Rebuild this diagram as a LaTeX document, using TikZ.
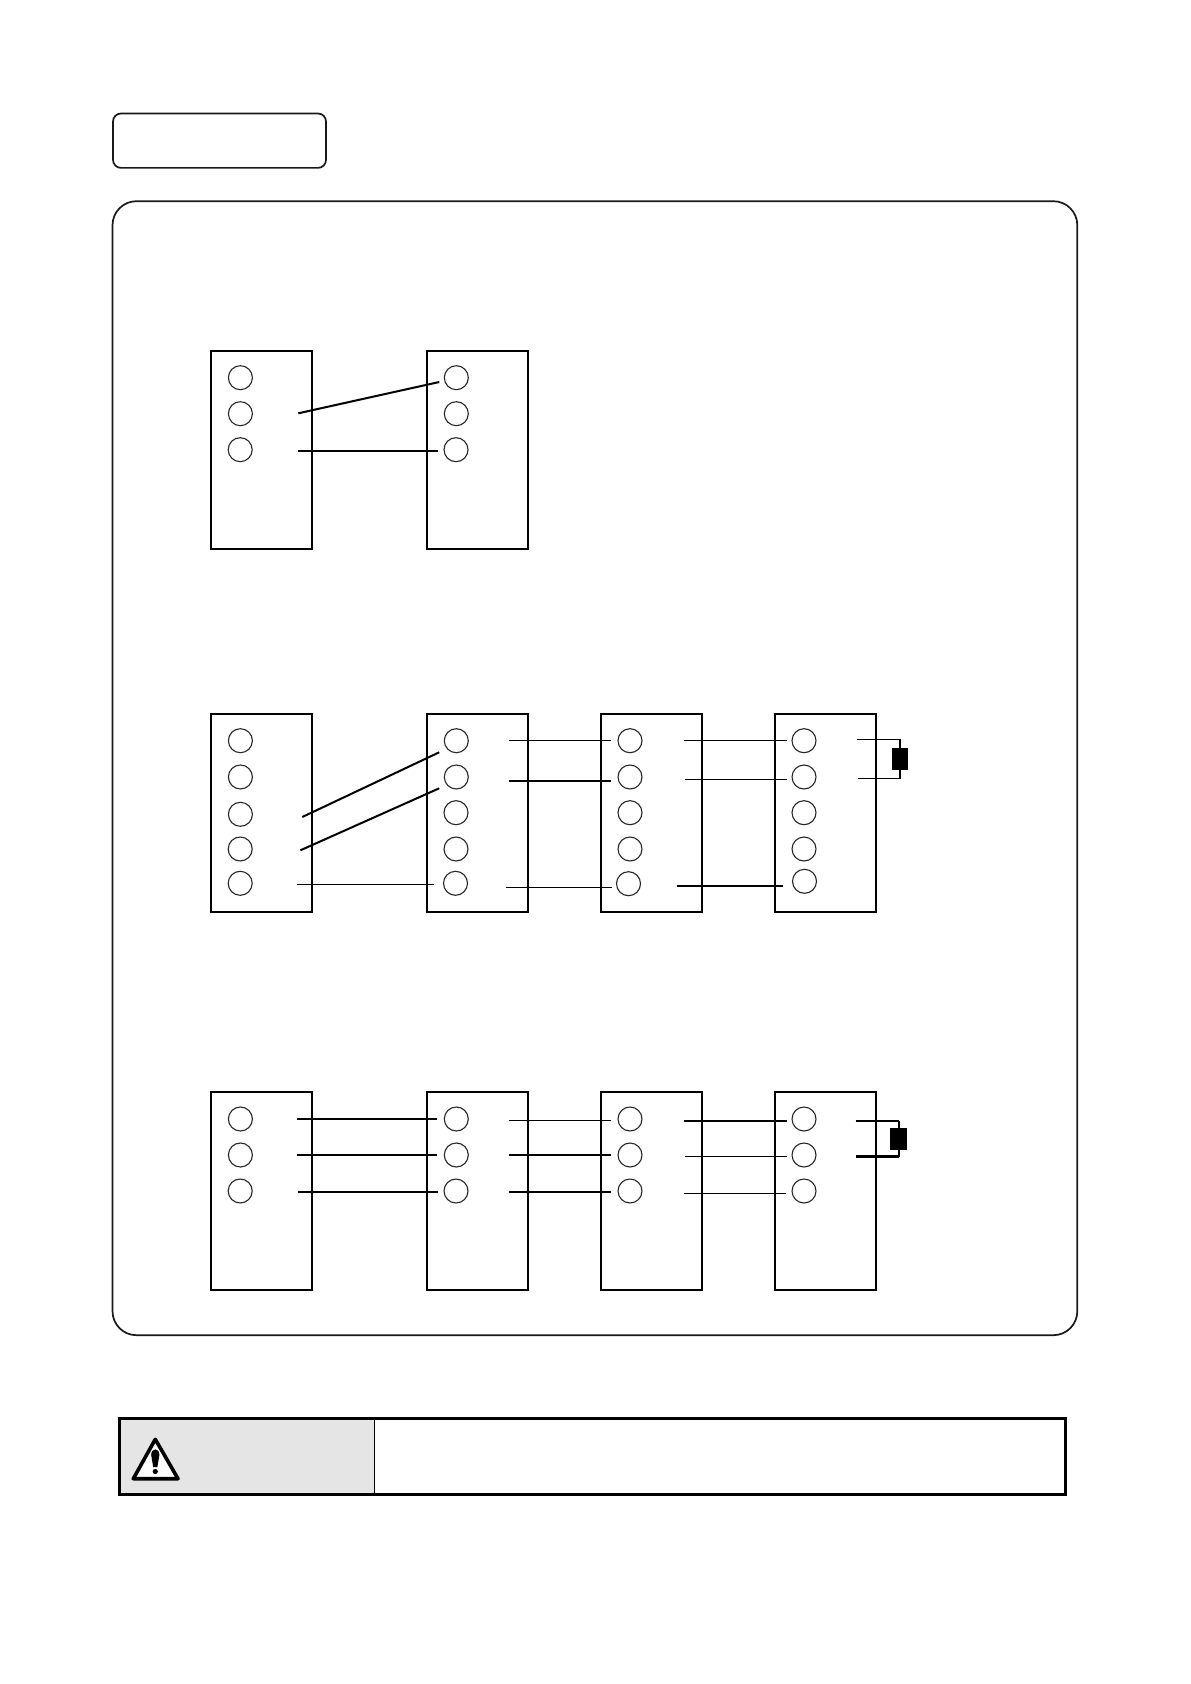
\documentclass[tikz,border=0pt]{standalone}
\usetikzlibrary{calc}
\tikzset{
  x=0.5pt,y=-0.5pt,
  unitbox/.style={draw=black,line width=1.1pt,fill=white,rectangle,inner sep=0pt,outer sep=0pt,minimum width=50.5pt,minimum height=99pt},
  pin/.style={draw=black!85,line width=0.55pt,circle,inner sep=0pt,outer sep=0pt,minimum size=12pt},
  frame/.style={draw=black!90,line width=0.85pt},
  thinw/.style={line width=0.6pt},
  medw/.style={line width=1pt},
  thickw/.style={line width=1.35pt},
  res/.style={fill=black,draw=none,rectangle,inner sep=0pt,outer sep=0pt,minimum width=8.4pt,minimum height=11pt}
}
\newcommand{\wire}[6]{\coordinate (#1a) at (#3,#4);\coordinate (#1b) at (#5,#6);\draw[#2] (#1a) -- (#1b);}
\newcommand{\pinat}[3]{\node[pin] (#1) at (#2,#3) {};}
\begin{document}
\begin{tikzpicture}
\path[use as bounding box,fill=white] (0,0) rectangle (1190,1684);
% title box and main frame
\node[frame,rectangle,rounded corners=4pt,inner sep=0pt,minimum width=106.5pt,minimum height=27.2pt] (title) at (219.5,140.7) {};
\node[frame,rectangle,rounded corners=12pt,inner sep=0pt,minimum width=482.4pt,minimum height=567pt] (main) at (594.9,768.2) {};
% diagram 1
\node[unitbox] (a1) at (261.3,450) {};
\node[unitbox] (b1) at (477.5,450) {};
\pinat{a1p1}{240.4}{377.7}\pinat{a1p2}{240.4}{413.7}\pinat{a1p3}{240.2}{449.7}
\pinat{b1p1}{456.3}{377.7}\pinat{b1p2}{456.3}{413.7}\pinat{b1p3}{456}{449.7}
\wire{u1}{medw}{298.3}{413.3}{439.3}{382}
\wire{u2}{medw}{298.3}{450.7}{437.7}{450.7}
% diagram 2
\node[unitbox] (a2) at (261.3,812.7) {};
\node[unitbox] (b2) at (477.5,812.7) {};
\node[unitbox] (c2) at (651.3,812.7) {};
\node[unitbox] (d2) at (825.2,812.7) {};
\pinat{a2p1}{240.4}{740.7}\pinat{a2p2}{240.4}{777}\pinat{a2p3}{240.4}{814.3}\pinat{a2p4}{240.2}{849}\pinat{a2p5}{240.2}{883.3}
\pinat{b2p1}{456.3}{740.7}\pinat{b2p2}{456.3}{777}\pinat{b2p3}{456}{812.7}\pinat{b2p4}{456}{849}\pinat{b2p5}{455.5}{883.3}
\pinat{c2p1}{630}{740.7}\pinat{c2p2}{630}{777}\pinat{c2p3}{630}{812.7}\pinat{c2p4}{630}{849}\pinat{c2p5}{628.5}{883.7}
\pinat{d2p1}{804}{740.7}\pinat{d2p2}{804}{777}\pinat{d2p3}{804}{812.7}\pinat{d2p4}{804}{849}\pinat{d2p5}{804.5}{881.3}
\wire{v1}{medw}{302.3}{817}{439.2}{752.3}
\wire{v2}{medw}{300.4}{850.3}{439.2}{788.3}
\wire{v3}{thinw}{297}{884.3}{434.3}{884.3}
\wire{v4}{thinw}{509.3}{740.3}{611.2}{740.3}
\wire{v5}{thickw}{509.3}{781}{611}{781}
\wire{v6}{thinw}{506}{887.3}{611.6}{887.3}
\wire{v7}{thinw}{684.3}{740.3}{786.7}{740.3}
\wire{v8}{thinw}{684.8}{779.3}{787.2}{779.3}
\wire{v9}{thickw}{676.8}{886}{782.5}{886}
\node[res] (r2) at (900,759) {};
\coordinate (r2t) at (857.3,739.3);\coordinate (r2b) at (858.3,778.3);
\draw[thinw] (r2t) -| (r2.north);
\draw[thinw] (r2b) -| (r2.south);
% diagram 3
\node[unitbox] (a3) at (261.3,1190.8) {};
\node[unitbox] (b3) at (477.5,1190.8) {};
\node[unitbox] (c3) at (651.3,1190.8) {};
\node[unitbox] (d3) at (825.2,1190.8) {};
\pinat{a3p1}{240.4}{1119}\pinat{a3p2}{240.4}{1155}\pinat{a3p3}{240.2}{1191}
\pinat{b3p1}{456.3}{1119}\pinat{b3p2}{456.3}{1155}\pinat{b3p3}{456}{1191}
\pinat{c3p1}{630}{1119}\pinat{c3p2}{630}{1155}\pinat{c3p3}{630}{1191}
\pinat{d3p1}{804}{1119}\pinat{d3p2}{804}{1155}\pinat{d3p3}{804}{1191}
\wire{w1}{thickw}{297.2}{1119}{437}{1119}
\wire{w2}{thickw}{297.2}{1155}{437}{1155}
\wire{w3}{thickw}{297.7}{1192}{437.6}{1192}
\wire{w4}{thinw}{509.3}{1120.3}{611.2}{1120.3}
\wire{w5}{thickw}{509.3}{1155}{611.2}{1155}
\wire{w6}{thickw}{509.3}{1192}{611.2}{1192}
\wire{w7}{thickw}{684.3}{1121}{786.7}{1121}
\wire{w8}{thinw}{684.8}{1156.3}{787.2}{1156.3}
\wire{w9}{thinw}{684}{1193.3}{786.2}{1193.3}
\node[res] (r3) at (898.8,1139) {};
\coordinate (r3t) at (855.6,1121);\coordinate (r3b) at (856,1156.7);
\draw[thickw] (r3t) -- (r3t -| r3.north);
\draw[thickw] (r3b) -- (r3b -| r3.south);
\draw[medw] (r3t -| r3.north) -- (r3b -| r3.south);
% caution bar
\fill[black!10] (119.7,1418.3) rectangle (374.3,1494.3);
\node[draw=black,line width=1.6pt,rectangle,inner sep=0pt,outer sep=0pt,minimum width=473.2pt,minimum height=38pt] (bar) at (592.6,1456.3) {};
\coordinate (divt) at (374.3,1418.3);\coordinate (divb) at (374.3,1494.3);
\draw[line width=0.6pt] (divt) -- (divb);
% warning sign
\draw[fill=white,line width=1.8pt,line join=round] (155.3,1439.3) -- (178,1478.7) -- (133.3,1478.7) -- cycle;
\fill[black] (151.2,1455) .. controls (151.2,1447.5) and (159.4,1447.5) .. (159.4,1455) -- (157.4,1467) -- (153.2,1467) -- cycle;
\fill[black] (155.3,1471.5) circle (2.6);
\end{tikzpicture}
\end{document}
